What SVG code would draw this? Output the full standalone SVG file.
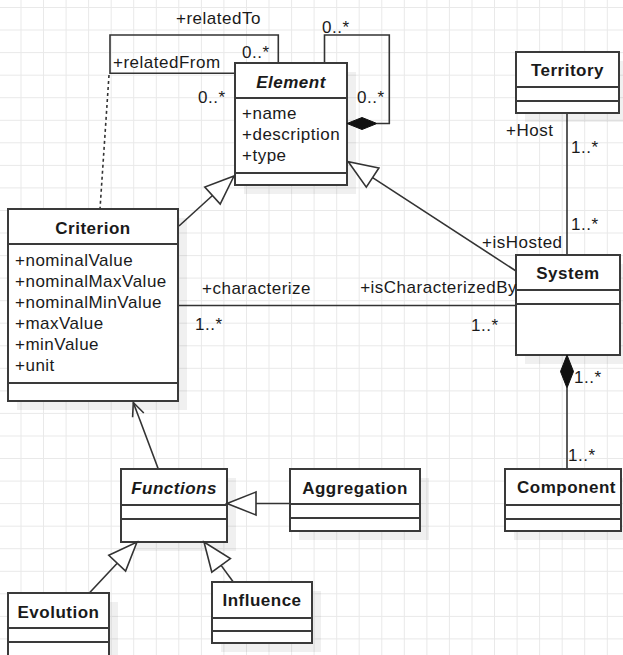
<svg xmlns="http://www.w3.org/2000/svg" width="623" height="655" viewBox="0 0 623 655">
<style>
.grid{fill:none;stroke:#e9e9e9;stroke-width:1}
.box{fill:#fff;stroke:#3a3a3a;stroke-width:2}
.dv{stroke:#3a3a3a;stroke-width:2}
.sh{fill:#000;opacity:0.06}
.t{font-family:"Liberation Sans",Arial,sans-serif;font-size:17px;letter-spacing:0.5px;fill:#1a1a1a}
.b{font-weight:bold;text-anchor:middle}
.i{font-style:italic}
.e{text-anchor:end}
.ln{fill:none;stroke:#333;stroke-width:1.6}
.dot{fill:none;stroke:#333;stroke-width:1.6;stroke-dasharray:3 3}
.tri{fill:#fff;stroke:#333;stroke-width:1.6;stroke-linejoin:miter}
.dia{fill:#111;stroke:#111;stroke-width:1}
</style>
<rect width="623" height="655" fill="#fff"/>
<path class="grid" d="M21,0V655M43.5,0V655M66.1,0V655M88.6,0V655M111.2,0V655M133.7,0V655M156.3,0V655M178.8,0V655M201.4,0V655M223.9,0V655M246.5,0V655M269,0V655M291.6,0V655M314.1,0V655M336.7,0V655M359.2,0V655M381.8,0V655M404.3,0V655M426.9,0V655M449.4,0V655M472,0V655M494.5,0V655M517.1,0V655M539.6,0V655M562.2,0V655M584.7,0V655M607.3,0V655
M0,7.5H623M0,30H623M0,52.6H623M0,75.2H623M0,97.7H623M0,120.3H623M0,142.8H623M0,165.4H623M0,187.9H623M0,210.5H623M0,233H623M0,255.6H623M0,278.1H623M0,300.7H623M0,323.2H623M0,345.8H623M0,368.3H623M0,390.9H623M0,413.4H623M0,436H623M0,458.5H623M0,481.1H623M0,503.6H623M0,526.2H623M0,548.7H623M0,571.3H623M0,593.8H623M0,616.4H623M0,638.9H623"/>

<g id="connectors">
  <path class="ln" d="M278.3,63V35H110V73.3H235"/>
  <path class="ln" d="M324.5,63V35H389.3V123.5H377"/>
  <path class="dot" d="M109,75L100,209"/>
  <path class="ln" d="M179,226L212.5,195.5"/>
  <path class="ln" d="M516,271L372.6,177.6"/>
  <path class="ln" d="M178,305.5H516"/>
  <path class="ln" d="M567,113V255"/>
  <path class="ln" d="M567,388V469"/>
  <path class="ln" d="M158.3,469L133.3,402.5"/>
  <path class="ln" d="M290,503.5H256"/>
  <path class="ln" d="M89.3,593L117.2,563.2"/>
  <path class="ln" d="M233.3,582L221.1,565.4"/>
</g>

<g id="Element">
  <rect class="sh" x="244" y="72" width="112" height="122"/>
  <rect class="box" x="235" y="63" width="112" height="122"/>
  <line class="dv" x1="235" y1="98" x2="347" y2="98"/>
  <line class="dv" x1="235" y1="173" x2="347" y2="173"/>
  <text class="t b i" x="291" y="88">Element</text>
  <text class="t" x="242" y="119">+name</text>
  <text class="t" x="242" y="140">+description</text>
  <text class="t" x="242" y="161">+type</text>
</g>

<g id="Criterion">
  <rect class="sh" x="17" y="218" width="170" height="192"/>
  <rect class="box" x="8" y="209" width="170" height="192"/>
  <line class="dv" x1="8" y1="244" x2="178" y2="244"/>
  <line class="dv" x1="8" y1="383" x2="178" y2="383"/>
  <text class="t b" x="93" y="234">Criterion</text>
  <text class="t" x="15" y="266">+nominalValue</text>
  <text class="t" x="15" y="287">+nominalMaxValue</text>
  <text class="t" x="15" y="308">+nominalMinValue</text>
  <text class="t" x="15" y="329">+maxValue</text>
  <text class="t" x="15" y="350">+minValue</text>
  <text class="t" x="15" y="371">+unit</text>
</g>

<g id="Territory">
  <rect class="sh" x="525" y="61" width="103" height="61"/>
  <rect class="box" x="516" y="52" width="103" height="61"/>
  <line class="dv" x1="516" y1="87" x2="619" y2="87"/>
  <line class="dv" x1="516" y1="101" x2="619" y2="101"/>
  <text class="t b" x="567.5" y="76">Territory</text>
</g>

<g id="System">
  <rect class="sh" x="525" y="264" width="104" height="100"/>
  <rect class="box" x="516" y="255" width="104" height="100"/>
  <line class="dv" x1="516" y1="290" x2="620" y2="290"/>
  <line class="dv" x1="516" y1="304" x2="620" y2="304"/>
  <text class="t b" x="568" y="279">System</text>
</g>

<g id="Functions">
  <rect class="sh" x="130" y="478" width="106" height="73"/>
  <rect class="box" x="121" y="469" width="106" height="73"/>
  <line class="dv" x1="121" y1="505" x2="227" y2="505"/>
  <line class="dv" x1="121" y1="519" x2="227" y2="519"/>
  <text class="t b i" x="174" y="494">Functions</text>
</g>

<g id="Aggregation">
  <rect class="sh" x="299" y="478" width="130" height="62"/>
  <rect class="box" x="290" y="469" width="130" height="62"/>
  <line class="dv" x1="290" y1="504" x2="420" y2="504"/>
  <line class="dv" x1="290" y1="518" x2="420" y2="518"/>
  <text class="t b" x="355" y="494">Aggregation</text>
</g>

<g id="Evolution">
  <rect class="sh" x="17" y="602" width="101" height="72"/>
  <rect class="box" x="8" y="593" width="101" height="72"/>
  <line class="dv" x1="8" y1="628" x2="109" y2="628"/>
  <line class="dv" x1="8" y1="642" x2="109" y2="642"/>
  <text class="t b" x="58.5" y="617.5">Evolution</text>
</g>

<g id="Influence">
  <rect class="sh" x="221" y="591" width="100" height="61"/>
  <rect class="box" x="212" y="582" width="100" height="61"/>
  <line class="dv" x1="212" y1="618" x2="312" y2="618"/>
  <line class="dv" x1="212" y1="631" x2="312" y2="631"/>
  <text class="t b" x="262" y="606">Influence</text>
</g>

<g id="Component">
  <rect class="sh" x="514" y="478" width="116" height="62"/>
  <rect class="box" x="505" y="469" width="116" height="62"/>
  <line class="dv" x1="505" y1="505" x2="621" y2="505"/>
  <line class="dv" x1="505" y1="519" x2="621" y2="519"/>
  <text class="t b" x="566.5" y="492.5">Component</text>
</g>

<g id="arrowheads">
  <polygon class="tri" points="234,176 220.2,204 204.8,187"/>
  <polygon class="tri" points="348.3,161.7 366.3,187.2 378.9,168"/>
  <polygon class="tri" points="227,503.5 256,492 256,515"/>
  <polygon class="tri" points="137,542 125.6,571.1 108.8,555.3"/>
  <polygon class="tri" points="204,542 211.8,572.2 230.4,558.6"/>
  <path class="ln" d="M132.6,417.2L133.3,402.5L143.8,413"/>
  <polygon class="dia" points="347,123.5 362,117.5 377,123.5 362,129.5"/>
  <polygon class="dia" points="567,355 573.5,371.5 567,388 560.5,371.5"/>
</g>

<g id="labels">
  <text class="t" x="176" y="24">+relatedTo</text>
  <text class="t" x="113" y="67.5">+relatedFrom</text>
  <text class="t" x="242" y="58">0..*</text>
  <text class="t" x="198" y="103">0..*</text>
  <text class="t" x="322" y="33">0..*</text>
  <text class="t" x="357" y="103">0..*</text>
  <text class="t" x="506" y="136">+Host</text>
  <text class="t" x="571" y="153">1..*</text>
  <text class="t" x="571" y="230">1..*</text>
  <text class="t" x="482" y="248">+isHosted</text>
  <text class="t e" x="517" y="293">+isCharacterizedBy</text>
  <text class="t" x="471" y="331">1..*</text>
  <text class="t" x="202" y="294">+characterize</text>
  <text class="t" x="195" y="330">1..*</text>
  <text class="t" x="574" y="383">1..*</text>
  <text class="t" x="568" y="461">1..*</text>
</g>
</svg>
